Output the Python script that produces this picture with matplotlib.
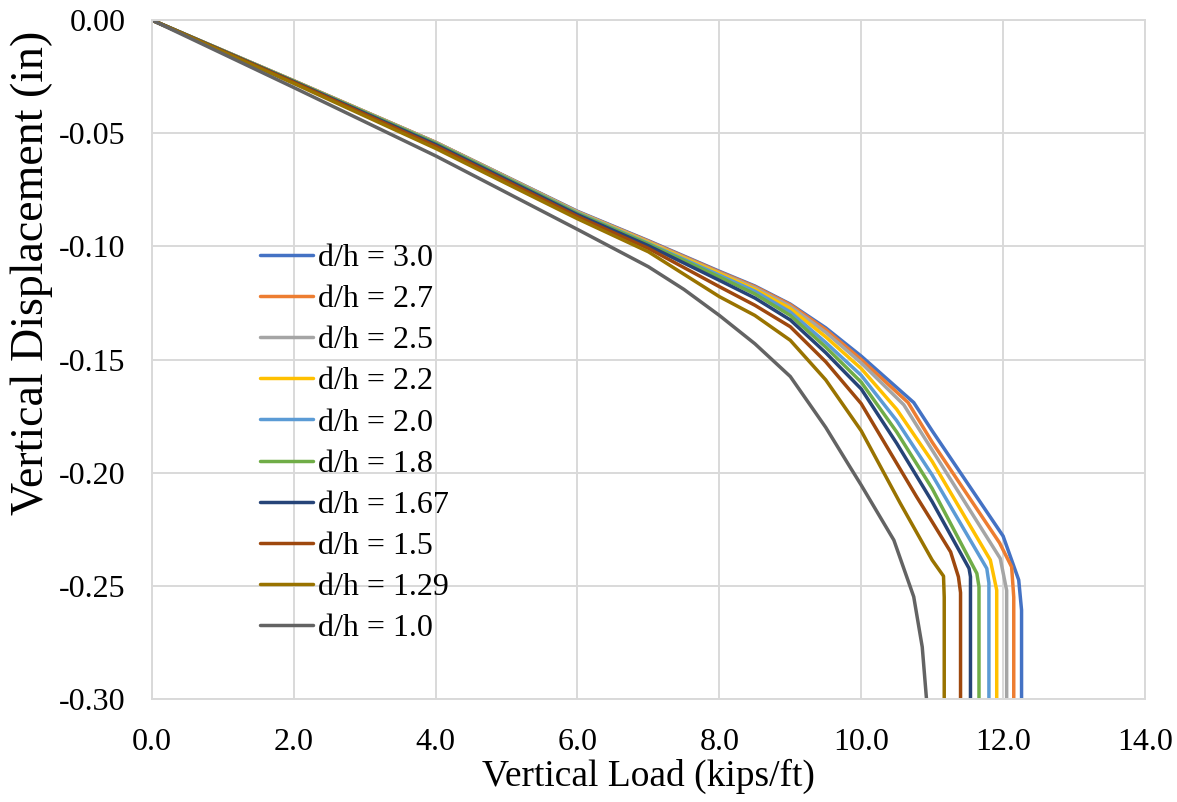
import matplotlib
matplotlib.use("Agg")
import matplotlib.pyplot as plt
from matplotlib.ticker import FixedLocator, FixedFormatter

plt.rcParams['font.family'] = ['Liberation Serif', 'DejaVu Serif']
plt.rcParams['axes.unicode_minus'] = False

# 图例标签
labels = ['d/h = 3.0', 'd/h = 2.7', 'd/h = 2.5', 'd/h = 2.2', 'd/h = 2.0',
          'd/h = 1.8', 'd/h = 1.67', 'd/h = 1.5', 'd/h = 1.29', 'd/h = 1.0']
colors = ['#4472C4', '#ED7D31', '#A5A5A5', '#FFC000', '#5B9BD5',
          '#70AD47', '#264478', '#9E480E', '#997300', '#636363']

# 各曲线数据: 荷载 (kips/ft) 和 竖向位移 (in)
load_30 = [0, 2, 4, 6, 7, 8, 8.5, 9, 9.5, 10, 10.74, 11.0, 12.0, 12.22, 12.26, 12.26]
disp_30 = [0, -0.0268, -0.054, -0.0845, -0.0975, -0.111, -0.1175, -0.1255, -0.136, -0.1485, -0.169, -0.1815, -0.228, -0.2474, -0.2607, -0.30]

load_27 = [0, 2, 4, 6, 7, 8, 8.5, 9, 9.5, 10, 10.66, 11.0, 11.95, 12.12, 12.15, 12.15]
disp_27 = [0, -0.0268, -0.054, -0.0847, -0.0977, -0.1113, -0.1178, -0.1258, -0.1368, -0.150, -0.169, -0.1865, -0.231, -0.2416, -0.255, -0.30]

load_25 = [0, 2, 4, 6, 7, 8, 8.5, 9, 9.5, 10, 10.6, 11.0, 11.96, 12.05, 12.05]
disp_25 = [0, -0.0269, -0.0541, -0.0848, -0.098, -0.1117, -0.1183, -0.1265, -0.138, -0.1515, -0.170, -0.190, -0.2379, -0.252, -0.30]

load_22 = [0, 2, 4, 6, 7, 8, 8.5, 9, 9.5, 10, 10.5, 11.0, 11.82, 11.91, 11.91]
disp_22 = [0, -0.0269, -0.0542, -0.085, -0.0983, -0.112, -0.119, -0.1275, -0.140, -0.154, -0.172, -0.195, -0.2386, -0.2519, -0.30]

load_20 = [0, 2, 4, 6, 7, 8, 8.5, 9, 9.5, 10, 10.5, 11.0, 11.77, 11.80, 11.80]
disp_20 = [0, -0.027, -0.0543, -0.0852, -0.0987, -0.1127, -0.1198, -0.129, -0.1425, -0.157, -0.177, -0.201, -0.2423, -0.2487, -0.30]

load_18 = [0, 2, 4, 6, 7, 8, 8.5, 9, 9.5, 10, 10.5, 11.0, 11.63, 11.66, 11.66]
disp_18 = [0, -0.027, -0.0545, -0.0855, -0.099, -0.1135, -0.121, -0.1305, -0.1445, -0.160, -0.182, -0.207, -0.2445, -0.2504, -0.30]

load_167 = [0, 2, 4, 6, 7, 8, 8.5, 9, 9.5, 10, 10.5, 11.0, 11.52, 11.54, 11.54]
disp_167 = [0, -0.0272, -0.055, -0.086, -0.0997, -0.115, -0.1228, -0.1325, -0.1470, -0.163, -0.187, -0.2128, -0.2423, -0.246, -0.30]

load_15 = [0, 2, 4, 6, 7, 8, 8.5, 9, 9.5, 10, 10.78, 11.0, 11.26, 11.37, 11.40, 11.40]
disp_15 = [0, -0.0275, -0.0557, -0.0868, -0.1009, -0.1178, -0.126, -0.1355, -0.151, -0.1695, -0.2106, -0.2217, -0.235, -0.246, -0.253, -0.30]

load_129 = [0, 2, 4, 6, 7, 8, 8.5, 9, 9.5, 10, 10.55, 11.0, 11.16, 11.17, 11.17]
disp_129 = [0, -0.028, -0.0567, -0.0878, -0.1024, -0.1222, -0.1305, -0.1415, -0.159, -0.1815, -0.2135, -0.2386, -0.2457, -0.255, -0.30]

load_10 = [0, 2, 4, 6, 7, 7.5, 8, 8.5, 9, 9.5, 9.84, 10.0, 10.46, 10.74, 10.86, 10.92]
disp_10 = [0, -0.0298, -0.060, -0.0925, -0.109, -0.119, -0.1305, -0.1430, -0.1575, -0.180, -0.1974, -0.2055, -0.2298, -0.2548, -0.277, -0.30]

loads = [load_30, load_27, load_25, load_22, load_20, load_18, load_167, load_15, load_129, load_10]
disps = [disp_30, disp_27, disp_25, disp_22, disp_20, disp_18, disp_167, disp_15, disp_129, disp_10]

x_ticks = [0, 2, 4, 6, 8, 10, 12, 14]
x_tick_labels = ['0.0', '2.0', '4.0', '6.0', '8.0', '10.0', '12.0', '14.0']
y_ticks = [0, -0.05, -0.10, -0.15, -0.20, -0.25, -0.30]
y_tick_labels = ['0.00', '-0.05', '-0.10', '-0.15', '-0.20', '-0.25', '-0.30']

fig = plt.figure(figsize=(11.77, 8.02), dpi=100)
ax = fig.add_axes([0.129, 0.1284, 0.8438, 0.8466])

for x, y, lab, c in zip(loads, disps, labels, colors):
    ax.plot(x, y, color=c, linewidth=2.5, label=lab, solid_joinstyle='round', solid_capstyle='round')

ax.set_xlim(0, 14)
ax.set_ylim(-0.30, 0)
ax.xaxis.set_major_locator(FixedLocator(x_ticks))
ax.xaxis.set_major_formatter(FixedFormatter(x_tick_labels))
ax.yaxis.set_major_locator(FixedLocator(y_ticks))
ax.yaxis.set_major_formatter(FixedFormatter(y_tick_labels))
ax.tick_params(axis='both', length=0, labelsize=23)
ax.tick_params(axis='x', pad=21)
ax.tick_params(axis='y', pad=19)
ax.grid(True, color='#D9D9D9', linewidth=1.4)
ax.set_axisbelow(True)
for s in ax.spines.values():
    s.set_color('#D9D9D9')
    s.set_linewidth(1.4)

ax.set_xlabel('Vertical Load (kips/ft)', fontsize=27)
ax.xaxis.set_label_coords(0.5, -0.088)
ax.set_ylabel('Vertical Displacement (in)', fontsize=33)
ax.yaxis.set_label_coords(-0.100, 0.628)

leg = ax.legend(loc='upper left', bbox_to_anchor=(0.109, 0.671), frameon=False,
                fontsize=23, borderpad=0, borderaxespad=0, handlelength=1.66,
                handletextpad=0.16, labelspacing=0.37)

plt.savefig('out.png', dpi=100)
plt.close()
